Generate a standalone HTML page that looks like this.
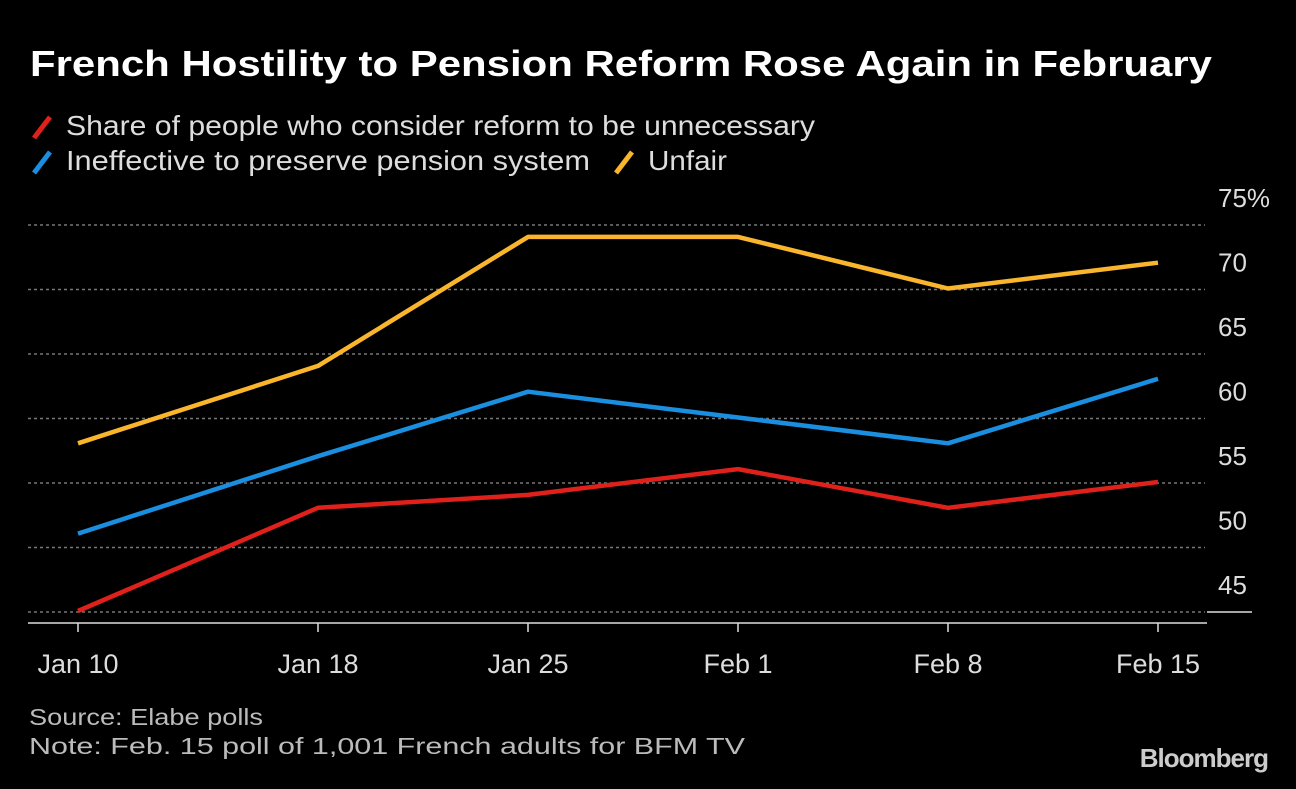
<!DOCTYPE html>
<html><head><meta charset="utf-8"><style>
body{margin:0;width:1296px;height:784px;background:#000;overflow:hidden;font-family:"Liberation Sans",sans-serif;color:#fff}
</style></head><body>
<svg width="1296" height="784">
<text x="30" y="76" font-size="36" font-weight="bold" fill="#fff" textLength="1182" lengthAdjust="spacingAndGlyphs">French Hostility to Pension Reform Rose Again in February</text>
<g font-size="28" fill="#ddd">
<line x1="34" y1="138" x2="50" y2="117" stroke="#e0201b" stroke-width="5"/>
<text x="66" y="135" textLength="749" lengthAdjust="spacingAndGlyphs">Share of people who consider reform to be unnecessary</text>
<line x1="34" y1="173" x2="50" y2="152" stroke="#1a8fe0" stroke-width="5"/>
<text x="66" y="170" textLength="524" lengthAdjust="spacingAndGlyphs">Ineffective to preserve pension system</text>
<line x1="616" y1="173" x2="632" y2="152" stroke="#f9b52c" stroke-width="5"/>
<text x="648" y="170" textLength="79" lengthAdjust="spacingAndGlyphs">Unfair</text>
</g>
<g id="grid"></g><g id="lines"></g><g id="xaxis"></g>
<text x="29" y="725" font-size="23" fill="#bbb" textLength="234" lengthAdjust="spacingAndGlyphs">Source: Elabe polls</text>
<text x="29" y="754" font-size="23" fill="#bbb" textLength="716" lengthAdjust="spacingAndGlyphs">Note: Feb. 15 poll of 1,001 French adults for BFM TV</text>
<text x="1268" y="767" font-size="26" font-weight="bold" fill="#ccc" text-anchor="end" letter-spacing="-1">Bloomberg</text>
</svg>
<script>
const days=[0,8,15,22,29,36];
const xLabels=["Jan 10","Jan 18","Jan 25","Feb 1","Feb 8","Feb 15"];
const yTicks=[45,50,55,60,65,70,75];
const unnecessary=[45,53,54,56,53,55];
const ineffective=[51,57,62,60,58,63];
const unfair=[58,64,74,74,70,72];
const NS="http://www.w3.org/2000/svg";
const X=d=>78+d*30, Y=v=>612-(v-45)*12.9;
function mk(t,a,p){const e=document.createElementNS(NS,t);for(const k in a)e.setAttribute(k,a[k]);p.appendChild(e);return e;}
const g=document.getElementById('grid');
yTicks.forEach(v=>{
 const l=mk('line',{x1:28,x2:1205,y1:Y(v),y2:Y(v),stroke:'#777','stroke-width':1.5,'stroke-dasharray':'3,3'},g);
 
 
 const t=mk('text',{x:1218,y:Y(v)-18,'font-size':26,fill:'#ddd'},g);
 t.textContent=v===75?'75%':v;
 
 
});
const s=mk('line',{x1:1207,x2:1252,y1:Y(45),y2:Y(45),stroke:'#ddd','stroke-width':1.5},g);


const ax=document.getElementById('xaxis');
const a=mk('line',{x1:28,x2:1207,y1:623,y2:623,stroke:'#ddd','stroke-width':1.5},ax);


days.forEach((d,i)=>{
 const tk=mk('line',{x1:X(d),x2:X(d),y1:623,y2:632,stroke:'#ddd','stroke-width':1.5},ax);
 
 
 const t=mk('text',{x:X(d),y:673,'font-size':27,fill:'#ddd','text-anchor':'middle'},ax);
 t.textContent=xLabels[i];
 
 
});
const lg=document.getElementById('lines');
[[unfair,'#f9b52c','unfair'],[ineffective,'#1a8fe0','ineffective'],[unnecessary,'#e0201b','unnecessary']].forEach(([arr,c,n])=>{
 const p=mk('polyline',{points:arr.map((v,i)=>X(days[i])+','+(Y(v)-1)).join(' '),fill:'none',stroke:c,'stroke-width':4.5,'stroke-linejoin':'round'},lg);
 
 
});
</script>
</body></html>
